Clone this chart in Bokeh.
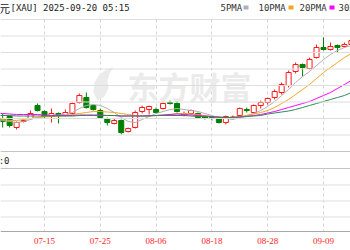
from bokeh.plotting import figure
from bokeh.models import (Range1d, FixedTicker, Label, LabelSet, Span,
                          BoxAnnotation, PolyAnnotation, ColumnDataSource)
from bokeh.embed import file_html
from bokeh.resources import INLINE

NaN = float("nan")

# ---------------- data ----------------
dates = ["07-03", "07-04", "07-07", "07-08", "07-09", "07-10", "07-11", "07-14",
         "07-15", "07-16", "07-17", "07-18", "07-21", "07-22", "07-23", "07-24",
         "07-25", "07-28", "07-29", "07-30", "07-31", "08-01", "08-04", "08-05",
         "08-06", "08-07", "08-08", "08-11", "08-12", "08-13", "08-14", "08-15",
         "08-18", "08-19", "08-20", "08-21", "08-22", "08-25", "08-26", "08-27",
         "08-28", "08-29", "09-01", "09-02", "09-03", "09-04", "09-05", "09-08",
         "09-09", "09-10", "09-11", "09-12", "09-15"]

open_ = [NaN, NaN, 3348, 3356, 3312, 3336, 3348, 3400,
         3376, 3356, 3368, 3360, 3368, 3412, 3432, 3400,
         3380, 3348, 3328, 3340, 3296, 3312, 3376, 3384,
         3384, 3388, 3412, 3408, 3360, 3368, 3368, 3354,
         3352, 3348, 3332, 3350, 3360, 3384, 3372, 3400,
         3412, 3432, 3452, 3480, 3536, 3564, 3548, 3592,
         3632, 3624, 3640, 3636, 3644]

close = [NaN, NaN, 3336, 3320, 3332, 3340, 3368, 3380,
         3356, 3368, 3360, 3372, 3408, 3440, 3392, 3384,
         3352, 3332, 3340, 3292, 3308, 3372, 3392, 3396,
         3372, 3408, 3408, 3376, 3368, 3380, 3352, 3350,
         3348, 3332, 3356, 3354, 3388, 3380, 3400, 3412,
         3428, 3456, 3484, 3532, 3564, 3552, 3584, 3632,
         3624, 3636, 3632, 3644, 3660]

high = [NaN, NaN, 3368, 3360, 3336, 3344, 3380, 3408,
        3380, 3388, 3372, 3384, 3412, 3448, 3452, 3404,
        3388, 3352, 3348, 3344, 3312, 3380, 3400, 3400,
        3392, 3412, 3420, 3416, 3376, 3384, 3372, 3360,
        3356, 3352, 3360, 3360, 3392, 3392, 3404, 3420,
        3432, 3464, 3492, 3540, 3572, 3568, 3592, 3644,
        3672, 3652, 3644, 3652, 3672]

low = [NaN, NaN, 3312, 3312, 3304, 3332, 3344, 3376,
       3348, 3332, 3328, 3356, 3364, 3408, 3388, 3380,
       3348, 3320, 3324, 3284, 3292, 3308, 3368, 3364,
       3368, 3384, 3404, 3372, 3356, 3364, 3348, 3344,
       3340, 3328, 3324, 3344, 3356, 3372, 3368, 3388,
       3404, 3424, 3444, 3472, 3528, 3516, 3544, 3588,
       3620, 3620, 3612, 3632, 3640]

ma5 = [NaN, 3344, 3340, 3336, 3332, 3336, 3344, 3352,
       3356, 3360, 3362, 3364, 3372, 3388, 3400, 3404,
       3400, 3388, 3372, 3352, 3336, 3332, 3344, 3356,
       3368, 3376, 3384, 3388, 3384, 3380, 3376, 3368,
       3360, 3352, 3348, 3344, 3352, 3360, 3368, 3380,
       3396, 3416, 3440, 3464, 3492, 3516, 3536, 3560,
       3584, 3604, 3620, 3632, 3640]

ma10 = [NaN, 3348, 3344, 3340, 3340, 3344, 3348, 3352,
        3354, 3356, 3358, 3360, 3364, 3368, 3372, 3376,
        3376, 3374, 3372, 3368, 3364, 3360, 3358, 3358,
        3360, 3362, 3364, 3368, 3368, 3366, 3364, 3360,
        3356, 3354, 3352, 3352, 3356, 3360, 3366, 3372,
        3380, 3392, 3408, 3424, 3444, 3464, 3484, 3508,
        3532, 3552, 3572, 3592, 3608]

ma20 = [NaN, 3368, 3368, 3366, 3364, 3364, 3364, 3364,
        3362, 3360, 3360, 3360, 3360, 3362, 3362, 3362,
        3362, 3360, 3360, 3358, 3358, 3358, 3358, 3360,
        3360, 3362, 3364, 3366, 3364, 3362, 3360, 3358,
        3356, 3354, 3352, 3352, 3354, 3356, 3360, 3364,
        3370, 3376, 3384, 3392, 3400, 3408, 3416, 3428,
        3440, 3452, 3468, 3484, 3500]

ma30 = [NaN, 3360, 3360, 3360, 3358, 3358, 3358, 3358,
        3358, 3358, 3358, 3358, 3358, 3360, 3360, 3360,
        3360, 3360, 3360, 3358, 3358, 3358, 3358, 3358,
        3360, 3360, 3360, 3360, 3360, 3358, 3356, 3356,
        3354, 3352, 3352, 3352, 3354, 3356, 3358, 3360,
        3366, 3370, 3374, 3378, 3384, 3392, 3400, 3408,
        3416, 3424, 3432, 3440, 3452]

tick_labels = ["07-03", "07-15", "07-25", "08-06", "08-18", "08-28", "09-09"]
legend_names = ["5PMA", "10PMA", "20PMA", "30PMA"]
title_text = "[XAU] 2025-09-20 05:15"
volume_text = "成交量:0"
watermark = "东方财富"

# ---------------- geometry helpers (screen px -> data) ----------------
PX_PER_BAR = 6.975
X0 = dates.index("07-15") - 44 / PX_PER_BAR
X1 = X0 + 350 / PX_PER_BAR


def sx(px):
    return X0 + px / PX_PER_BAR


def sy(py):
    return 3820 - 4 * py


RED = "#ff1a1a"
GREEN = "#008000"
MA_COLORS = ["#b0b0b0", "#f5a623", "#ff00ff", "#2e8b57"]

p = figure(width=350, height=250, x_range=Range1d(X0, X1), y_range=Range1d(sy(250), sy(0)),
           output_backend="svg", toolbar_location=None,
           x_axis_location=None, y_axis_location=None,
           min_border=0, min_border_left=0, min_border_right=0,
           min_border_top=0, min_border_bottom=0,
           outline_line_color=None, background_fill_color="white",
           border_fill_color="white")

tick_pos = [dates.index(t) for t in tick_labels]
p.ygrid.grid_line_color = None
p.xgrid.ticker = FixedTicker(ticks=tick_pos)
p.xgrid.grid_line_color = "#d4d4d4"
p.xgrid.grid_line_dash = "3 3"

# masks hiding the vertical grid in title / header / date bands
for kw in (dict(bottom=sy(19)), dict(top=sy(151), bottom=sy(168)), dict(top=sy(231))):
    p.add_layout(BoxAnnotation(fill_color="white", fill_alpha=1, line_color=None,
                               level="underlay", **kw))

# watermark
wm_x = [sx(v) for v in (97, 93, 94, 99, 106, 113, 109, 107, 108, 104)]
wm_y = [sy(v) for v in (100, 92, 82, 74, 69, 67, 73, 80, 88, 96)]
p.add_layout(PolyAnnotation(xs=wm_x, ys=wm_y, fill_color="#ebebeb", fill_alpha=1,
                            line_color=None, level="underlay"))
p.add_layout(Label(x=sx(127), y=sy(85), text=watermark, text_align="left",
                   text_baseline="middle", text_font="Noto Sans CJK SC",
                   text_font_style="bold", text_font_size="31px",
                   text_color="#ebebeb", level="underlay"))

# horizontal lines
for py in (19, 35.5, 52, 68.5, 85, 101.5, 118, 134.5, 184.5, 200.5, 216.5):
    p.add_layout(Span(location=sy(py), dimension="width", line_color="#dedede", line_width=1))
for py in (151, 168):
    p.add_layout(Span(location=sy(py), dimension="width", line_color="#c4c4c4", line_width=1))
p.add_layout(Span(location=sy(231), dimension="width", line_color="#a8a8a8", line_width=1))

# candles
xs = list(range(len(dates)))
up = [c >= o for o, c in zip(open_, close)]
src = ColumnDataSource(dict(
    x=xs, high=high, low=low,
    top=[max(o, c) for o, c in zip(open_, close)],
    bot=[min(o, c) for o, c in zip(open_, close)],
    col=[RED if u else GREEN for u in up],
    fill=["white" if u else GREEN for u in up],
))
p.segment(x0="x", y0="low", x1="x", y1="high", color="col", line_width=1, source=src)
p.vbar(x="x", width=0.72, top="top", bottom="bot", fill_color="fill",
       line_color="col", line_width=1, source=src)

for ma, col in zip((ma5, ma10, ma20, ma30), MA_COLORS):
    p.line(xs, ma, line_color=col, line_width=1)

# title
p.add_layout(Label(x=sx(9.5), y=sy(7), text="美元", text_align="right", text_baseline="middle",
                   text_font="Noto Sans CJK SC", text_font_size="11px", text_color="#222"))
p.add_layout(Label(x=sx(10), y=sy(7), text=title_text, text_align="left", text_baseline="middle",
                   text_font="DejaVu Sans Mono", text_font_size="9px", text_color="#222"))

# legend
for name, tx, mx, col in zip(legend_names, (220, 258, 299, 338), (243, 288, 329, 370), MA_COLORS):
    p.add_layout(Label(x=sx(tx), y=sy(7), text=name, text_align="left", text_baseline="middle",
                       text_font="DejaVu Sans Mono", text_font_size="9px", text_color="#333"))
    p.add_layout(BoxAnnotation(left=sx(mx), right=sx(mx + 5), top=sy(5), bottom=sy(9),
                               fill_color=col, fill_alpha=1, line_color=None))

# volume header
p.add_layout(Label(x=sx(9), y=sy(160), text=volume_text, text_align="right",
                   text_baseline="middle", text_font="DejaVu Sans Mono",
                   text_font_size="9px", text_color="#222"))

# date labels
lab_src = ColumnDataSource(dict(x=tick_pos, y=[sy(240)] * len(tick_pos), t=tick_labels))
p.add_layout(LabelSet(x="x", y="y", text="t", source=lab_src, text_align="center",
                      text_baseline="middle", text_font="DejaVu Sans Mono",
                      text_font_size="9px", text_color=RED))

open("out.html", "w").write(file_html(p, INLINE))
